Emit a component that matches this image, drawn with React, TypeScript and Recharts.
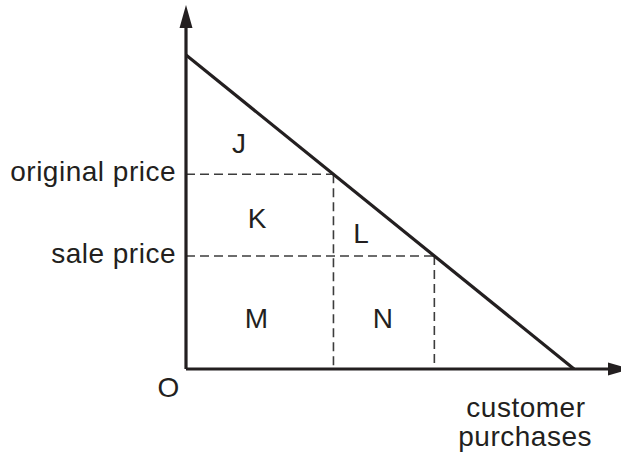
import React from "react";
import { ComposedChart, Line, XAxis, YAxis, ReferenceLine, ReferenceDot } from "recharts";

// demand curve end points (quantity, price)
const demandQ = [0, 100];
const demandP = [100, 0];

const originalPrice = 62;
const originalQty = 38;
const salePrice = 36;
const saleQty = 64;

const X_MAX = 112.1;
const Y_MAX = 115.9;

// region letters and where they sit (quantity, price of baseline)
const regionNames = ["J", "K", "L", "M", "N"];
const regionQ = [13.7, 18.4, 45.2, 18.2, 50.8];
const regionP = [68.8, 44.9, 40.1, 13.1, 13.1];

const axisTexts = ["O", "customer", "purchases"];
const axisTextQ = [-4.5, 87.6, 87.4];
const axisTextP = [-8.9, -15.3, -24.5];

const INK = "#231f20";
const DASH = "#3c3c3c";
const FONT = "'Liberation Sans', Arial, sans-serif";

const demand = demandQ.map((q, i) => ({ q, p: demandP[i] }));

const textShape = (label: string) => (props: any) => (
  <text
    x={props.cx}
    y={props.cy}
    textAnchor="middle"
    fontFamily={FONT}
    fontSize={28}
    letterSpacing={0.5}
    fill={INK}
  >
    {label}
  </text>
);

const priceLabel = (label: string) => (props: any) => {
  const vb = props.viewBox || {};
  return (
    <text
      x={vb.x - 10}
      y={vb.y + 7}
      textAnchor="end"
      fontFamily={FONT}
      fontSize={28}
      letterSpacing={0.5}
      fill={INK}
    >
      {label}
    </text>
  );
};

const upArrow = (props: any) => {
  const { cx, cy } = props;
  return <polygon points={`${cx},${cy} ${cx - 6.5},${cy + 23} ${cx + 6.5},${cy + 23}`} fill={INK} />;
};

const rightArrow = (props: any) => {
  const { cx, cy } = props;
  return <polygon points={`${cx - 13},${cy - 6.5} ${cx + 10},${cy} ${cx - 13},${cy + 6.5}`} fill={INK} />;
};

export default function App() {
  return (
    <div style={{ position: "absolute", left: 0, top: 0, width: 621, height: 457, overflow: "hidden", background: "#fff" }}>
      <ComposedChart width={621} height={457} margin={{ top: 5, right: 0, bottom: 88, left: 186 }}>
        <XAxis type="number" dataKey="q" domain={[0, X_MAX]} allowDataOverflow hide />
        <YAxis type="number" domain={[0, Y_MAX]} allowDataOverflow hide />

        <ReferenceLine
          segment={[{ x: 0, y: originalPrice }, { x: originalQty, y: originalPrice }]}
          stroke={DASH}
          strokeWidth={1.6}
          strokeDasharray="9 5"
          label={priceLabel("original price")}
        />
        <ReferenceLine
          segment={[{ x: originalQty, y: originalPrice }, { x: originalQty, y: 0 }]}
          stroke={DASH}
          strokeWidth={1.6}
          strokeDasharray="9 5"
        />
        <ReferenceLine
          segment={[{ x: 0, y: salePrice }, { x: saleQty, y: salePrice }]}
          stroke={DASH}
          strokeWidth={1.6}
          strokeDasharray="9 5"
          label={priceLabel("sale price")}
        />
        <ReferenceLine
          segment={[{ x: saleQty, y: salePrice }, { x: saleQty, y: 0 }]}
          stroke={DASH}
          strokeWidth={1.6}
          strokeDasharray="9 5"
        />

        <ReferenceLine segment={[{ x: 0, y: 0 }, { x: 0, y: Y_MAX - 5 }]} stroke={INK} strokeWidth={3.2} />
        <ReferenceLine segment={[{ x: 0, y: 0 }, { x: X_MAX, y: 0 }]} stroke={INK} strokeWidth={3.2} />
        <ReferenceDot x={0} y={Y_MAX} r={1} ifOverflow="visible" shape={upArrow} />
        <ReferenceDot x={X_MAX} y={0} r={1} ifOverflow="visible" shape={rightArrow} />

        <Line
          data={demand}
          dataKey="p"
          type="linear"
          stroke={INK}
          strokeWidth={3.2}
          dot={false}
          activeDot={false}
          isAnimationActive={false}
        />

        {regionNames.map((n, i) => (
          <ReferenceDot key={n} x={regionQ[i]} y={regionP[i]} r={1} ifOverflow="visible" shape={textShape(n)} />
        ))}
        {axisTexts.map((t, i) => (
          <ReferenceDot key={t} x={axisTextQ[i]} y={axisTextP[i]} r={1} ifOverflow="visible" shape={textShape(t)} />
        ))}
      </ComposedChart>
    </div>
  );
}
